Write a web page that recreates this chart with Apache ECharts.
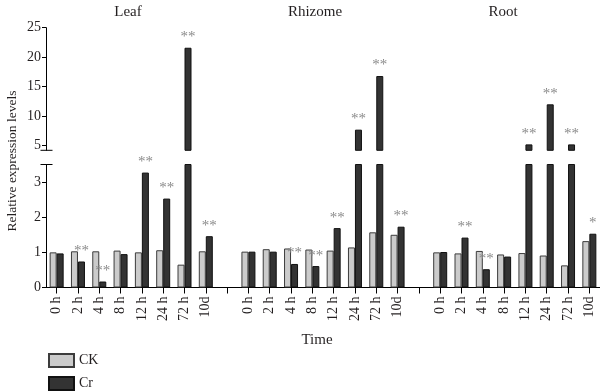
<!DOCTYPE html>
<html><head><meta charset="utf-8">
<script src="https://cdn.jsdelivr.net/npm/echarts@6/dist/echarts.min.js"></script>
<style>html,body{margin:0;padding:0;background:#fff}#c{width:600px;height:391px}</style>
</head><body><div id="c"></div>
<script>
// ---- data ----
const timePoints = ['0 h', '2 h', '4 h', '8 h', '12 h', '24 h', '72 h', '10d'];
const tissues = ['Leaf', 'Rhizome', 'Root'];
const leafCK    = [1.00, 1.03, 1.03, 1.05, 1.00, 1.06, 0.65, 1.03];
const leafCr    = [0.97, 0.74, 0.17, 0.95, 3.27, 2.53, 21.6, 1.46];
const rhizomeCK = [1.02, 1.09, 1.11, 1.08, 1.05, 1.14, 1.57, 1.50];
const rhizomeCr = [1.02, 1.02, 0.67, 0.61, 1.69, 7.7, 16.8, 1.73];
const rootCK    = [1.00, 0.97, 1.04, 0.94, 0.98, 0.91, 0.63, 1.32];
const rootCr    = [1.01, 1.42, 0.52, 0.88, 5.2, 12.0, 5.2, 1.53];
const leafSig    = ['', '**', '**', '', '**', '**', '**', '**'];
const rhizomeSig = ['', '', '**', '**', '**', '**', '**', '**'];
const rootSig    = ['', '**', '**', '', '**', '**', '**', '*'];
const lowerTicks = ['0', '1', '2', '3'];
const upperTicks = ['5', '10', '15', '20', '25'];

// ---- layout ----
const FONT = 'Liberation Serif';
const TXT = '#231f20';
const LEFT = 46;
const UP_TOP = 27.7, UP_H = 122.6, UP_MIN = 4.2, UP_MAX = 25;
const LO_TOP = 164.5, LO_H = 123, LO_MAX = 3.5;

const join = (a, b, c, gap) => [...a, gap, ...b, gap, ...c];
const cats = join(timePoints, timePoints, timePoints, '');
const ckAll = join(leafCK, rhizomeCK, rootCK, '-');
const crAll = join(leafCr, rhizomeCr, rootCr, '-');
const sigAll = join(leafSig, rhizomeSig, rootSig, '');

const ckStyle = {color: '#cbcbcb', borderColor: '#3c3c3c', borderWidth: 1};
const crStyle = {color: '#333333', borderColor: '#111111', borderWidth: 1};
const sigLabel = (test) => ({
  show: true, position: 'top', distance: 3,
  color: '#8a8a8a', fontSize: 15, fontFamily: FONT,
  formatter: p => (test(p.value) ? sigAll[p.dataIndex] : '')
});

const chart = echarts.init(document.getElementById('c'), null, {renderer: 'canvas'});
const yCommon = {
  type: 'value',
  axisLine: {show: true, lineStyle: {color: '#000', width: 1}},
  axisTick: {show: true, length: 4, lineStyle: {color: '#000'}},
  splitLine: {show: false},
  axisLabel: {color: TXT, fontSize: 14, fontFamily: FONT, margin: 5}
};
const titleX = [123, 310, 498];

chart.setOption({
  animation: false,
  backgroundColor: '#fff',
  title: tissues.map((t, i) => ({
    text: t, left: titleX[i], top: 0, textAlign: 'center',
    textStyle: {fontFamily: FONT, fontSize: 15, fontWeight: 'normal', color: TXT}
  })),
  legend: {
    data: ['CK', 'Cr'], orient: 'vertical', left: 48, top: 353,
    itemWidth: 25, itemHeight: 13, itemGap: 8, icon: 'rect',
    textStyle: {fontFamily: FONT, fontSize: 14, color: TXT, padding: [0, 0, 0, 0]},
    padding: 0
  },
  grid: [
    {left: LEFT, right: 0, top: LO_TOP, height: LO_H, outerBoundsMode: 'none'},
    {left: LEFT, right: 0, top: UP_TOP, height: UP_H, outerBoundsMode: 'none'}
  ],
  xAxis: [
    {type: 'category', gridIndex: 0, data: cats,
     axisLine: {show: true, lineStyle: {color: '#000', width: 1}},
     axisTick: {show: true, alignWithLabel: true, interval: 0, length: 6, lineStyle: {color: '#000'}},
     axisLabel: {interval: 0, rotate: 90, margin: 9, color: TXT, fontSize: 14, fontFamily: FONT}},
    {type: 'category', gridIndex: 1, data: cats, show: false}
  ],
  yAxis: [
    Object.assign({}, yCommon, {gridIndex: 0, min: 0, max: LO_MAX, interval: 1,
      axisLabel: Object.assign({}, yCommon.axisLabel, {showMaxLabel: false,
        formatter: v => (lowerTicks.indexOf(String(v)) >= 0 ? String(v) : '')})}),
    Object.assign({}, yCommon, {gridIndex: 1, min: UP_MIN, max: UP_MAX, splitNumber: 4,
      axisLabel: Object.assign({}, yCommon.axisLabel, {showMinLabel: false,
        formatter: v => (upperTicks.indexOf(String(v)) >= 0 ? String(v) : '')})})
  ],
  series: [
    {name: 'CK', type: 'bar', xAxisIndex: 0, yAxisIndex: 0, data: ckAll, barWidth: 7, barGap: '0%', itemStyle: ckStyle, clip: true},
    {name: 'Cr', type: 'bar', xAxisIndex: 0, yAxisIndex: 0, data: crAll, barWidth: 7, barGap: '0%', itemStyle: crStyle, clip: true,
     label: sigLabel(v => v <= LO_MAX)},
    {name: 'CK', type: 'bar', xAxisIndex: 1, yAxisIndex: 1, data: ckAll, barWidth: 7, barGap: '0%', itemStyle: ckStyle, clip: true},
    {name: 'Cr', type: 'bar', xAxisIndex: 1, yAxisIndex: 1, data: crAll, barWidth: 7, barGap: '0%', itemStyle: crStyle, clip: true,
     label: sigLabel(v => v > UP_MIN)}
  ],
  graphic: [
    {type: 'text', x: 12, y: 161, rotation: Math.PI / 2,
     style: {text: 'Relative expression levels', fill: TXT, font: '13.5px "' + FONT + '"', align: 'center', verticalAlign: 'middle'}},
    {type: 'text', x: 317, y: 340,
     style: {text: 'Time', fill: TXT, font: '15px "' + FONT + '"', align: 'center', verticalAlign: 'middle'}},
    {type: 'line', shape: {x1: LEFT - 5.5, y1: UP_TOP + UP_H, x2: LEFT + 6.5, y2: UP_TOP + UP_H}, style: {stroke: '#000', lineWidth: 1}},
    {type: 'line', shape: {x1: LEFT - 5.5, y1: LO_TOP, x2: LEFT + 6.5, y2: LO_TOP}, style: {stroke: '#000', lineWidth: 1}}
  ]
});
</script>
</body></html>
